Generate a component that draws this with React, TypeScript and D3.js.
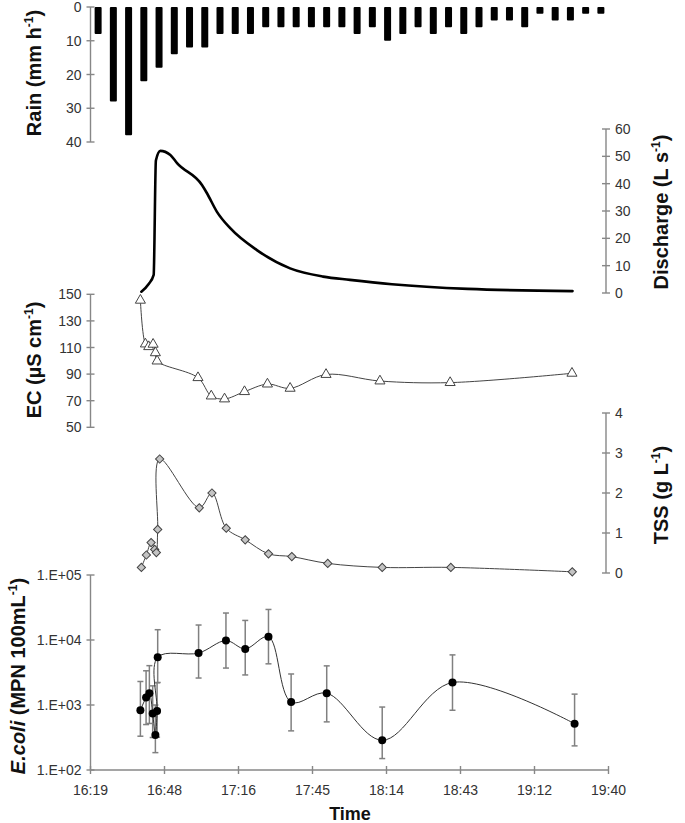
import React from 'react';
import * as d3 from 'd3';

const W = 685;
const H = 823;

// ---- Data ----
const rainValues = [8, 28, 38, 22, 18, 14, 12, 12, 8, 8, 8, 6, 6, 6, 6, 6, 6, 8, 6, 10, 8, 6, 8, 6, 8, 6, 4, 4, 6, 2, 4, 4, 2, 2];
const rainTicks = [0, 10, 20, 30, 40];

const dischargeTimes = ["16:39:00", "16:41:51", "16:43:47", "16:44:39", "16:46:23", "16:50:17", "16:52:53", "17:02:35", "17:04:32", "17:08:25", "17:13:35", "17:23:57", "17:36:53", "17:49:43", "18:00:11", "18:16:30", "18:46:00", "19:26:48"];
const dischargeValues = [0.5, 3.3, 6.6, 48.5, 52, 50.5, 47.5, 39.5, 36.5, 29.7, 23.7, 15.7, 9.0, 6.0, 4.8, 3.2, 1.5, 0.7];
const dischargeTicks = [0, 10, 20, 30, 40, 50, 60];

const ecTimes = ["16:38:37", "16:40:34", "16:41:51", "16:43:34", "16:44:27", "16:45:07", "17:01:02", "17:06:12", "17:11:22", "17:19:08", "17:28:04", "17:36:53", "17:50:52", "18:11:51", "18:39:10", "19:26:35"];
const ecValues = [145.5, 112.6, 110.6, 112.4, 106, 99.8, 87.3, 73.5, 71.3, 76.8, 82.5, 79.3, 89.7, 84.8, 83.6, 90.6];
const ecTicks = [50, 70, 90, 110, 130, 150];

const tssTimes = ["16:39:00", "16:40:57", "16:42:47", "16:44:11", "16:44:50", "16:45:21", "16:46:07", "17:01:32", "17:06:28", "17:12:02", "17:19:25", "17:28:28", "17:37:33", "17:51:32", "18:12:44", "18:39:26", "19:26:42"];
const tssValues = [0.14, 0.45, 0.76, 0.59, 0.51, 1.09, 2.85, 1.63, 2.0, 1.12, 0.83, 0.48, 0.41, 0.24, 0.14, 0.14, 0.03];
const tssTicks = [0, 1, 2, 3, 4];

const ecoliTimes = ["16:38:37", "16:40:50", "16:42:07", "16:43:24", "16:44:27", "16:45:07", "16:45:21", "17:01:16", "17:11:55", "17:19:25", "17:28:28", "17:37:17", "17:51:08", "18:12:44", "18:40:05", "19:27:36"];
const ecoliValues = [828, 1300, 1520, 740, 346, 810, 5430, 6300, 9800, 7300, 11200, 1110, 1520, 287, 2220, 515];
const ecoliLower = [331, 500, 520, 316, 185, 320, 2220, 2600, 3700, 2900, 4300, 400, 550, 150, 830, 235];
const ecoliUpper = [2300, 3360, 4030, 1970, 1000, 2200, 14400, 17000, 26000, 20000, 29500, 3000, 4000, 930, 5900, 1470];
const ecoliTicks = [100, 1000, 10000, 100000];
const ecoliTickLabels = ["1.E+02", "1.E+03", "1.E+04", "1.E+05"];

const xDomain = ["16:19:12", "19:40:48"];
const xTickTimes = ["16:19:12", "16:48:00", "17:16:48", "17:45:36", "18:14:24", "18:43:12", "19:12:00", "19:40:48"];
const xTickLabels = ["16:19", "16:48", "17:16", "17:45", "18:14", "18:43", "19:12", "19:40"];

// ---- helpers ----
const toMin = (t: string) => {
  const [h, m, s] = t.split(':').map(Number);
  return h * 60 + m + (s || 0) / 60;
};

const FONT = "'Liberation Sans', Arial, sans-serif";
const AXIS = '#878787';
const TICKTXT = '#333';

const LEFT_X = 90.5;
const RIGHT_X = 606;
const TITLE_SIZE = 20;

const x = d3.scaleLinear().domain(xDomain.map(toMin)).range([90.5, 608.5]);
const rainX = d3.scalePoint<number>().domain(rainValues.map((_, i) => i)).range([90.5, 608.5]).padding(0.5);
const rainY = d3.scaleLinear().domain([0, 40]).range([7, 142]);
const qY = d3.scaleLinear().domain([0, 60]).range([293, 129]);
const ecY = d3.scaleLinear().domain([50, 150]).range([427.3, 294.3]);
const tssY = d3.scaleLinear().domain([0, 4]).range([573, 413]);
const ecoliY = d3.scaleLog().domain([100, 100000]).range([770, 575]);

function VAxis({ scale, ticks, labels, xPos, side }: any) {
  const d = scale.domain();
  const y0 = scale(d[0]);
  const y1 = scale(d[d.length - 1]);
  return (
    <g>
      <line x1={xPos} x2={xPos} y1={y0} y2={y1} stroke={AXIS} strokeWidth={1.4} />
      {ticks.map((t: number, i: number) => (
        <g key={i}>
          <line x1={xPos - 4} x2={xPos + 4} y1={scale(t)} y2={scale(t)} stroke={AXIS} strokeWidth={1.4} />
          <text
            x={side === 'left' ? xPos - 9 : xPos + 9}
            y={scale(t)}
            dy="0.36em"
            textAnchor={side === 'left' ? 'end' : 'start'}
            fontSize={14}
            fill={TICKTXT}
            fontFamily={FONT}
          >
            {labels ? labels[i] : t}
          </text>
        </g>
      ))}
    </g>
  );
}

function VTitle({ xPos, yPos, children }: any) {
  return (
    <text
      transform={`translate(${xPos},${yPos}) rotate(-90)`}
      textAnchor="middle"
      fontSize={TITLE_SIZE}
      fontWeight="bold"
      fontFamily={FONT}
      fill="#111"
    >
      {children}
    </text>
  );
}

const sup = (s: string) => (
  <tspan fontSize={12} dy={-8}>{s}</tspan>
);
const unsup = (s: string) => (
  <tspan dy={8}>{s}</tspan>
);

export default function App() {
  const qLine = d3
    .line<number>()
    .x((_, i) => x(toMin(dischargeTimes[i])))
    .y((v) => qY(v))
    .curve(d3.curveMonotoneX)(dischargeValues) as string;

  const ecLine = d3
    .line<number>()
    .x((_, i) => x(toMin(ecTimes[i])))
    .y((v) => ecY(v))
    .curve(d3.curveCatmullRom.alpha(0.5))(ecValues) as string;

  const tssLine = d3
    .line<number>()
    .x((_, i) => x(toMin(tssTimes[i])))
    .y((v) => tssY(v))
    .curve(d3.curveCatmullRom.alpha(0.5))(tssValues) as string;

  const ecoliLine = d3
    .line<number>()
    .x((_, i) => x(toMin(ecoliTimes[i])))
    .y((v) => ecoliY(v))
    .curve(d3.curveCatmullRom.alpha(0.5))(ecoliValues) as string;

  const tri = d3.symbol().type(d3.symbolTriangle).size(44)() as string;
  const sq = d3.symbol().type(d3.symbolSquare).size(34)() as string;

  const barW = 7;

  return (
    <svg
      width={W}
      height={H}
      viewBox={`0 0 ${W} ${H}`}
      style={{ position: 'absolute', left: 0, top: 0, background: '#fff' }}
      fontFamily={FONT}
    >
      <rect x={0} y={0} width={W} height={H} fill="#fff" />

      {/* Rain bars */}
      {rainValues.map((v, i) => (
        <rect
          key={i}
          x={(rainX(i) as number) - barW / 2}
          y={rainY(0)}
          width={barW}
          height={rainY(v) - rainY(0)}
          fill="#000"
          rx={1}
        />
      ))}

      {/* Discharge */}
      <path d={qLine} fill="none" stroke="#000" strokeWidth={2.6} strokeLinecap="round" />

      {/* EC */}
      <path d={ecLine} fill="none" stroke="#444" strokeWidth={1} />
      {ecValues.map((v, i) => (
        <path
          key={i}
          d={tri}
          transform={`translate(${x(toMin(ecTimes[i]))},${ecY(v)})`}
          fill="#fff"
          stroke="#444"
          strokeWidth={1}
        />
      ))}

      {/* TSS */}
      <path d={tssLine} fill="none" stroke="#444" strokeWidth={1} />
      {tssValues.map((v, i) => (
        <path
          key={i}
          d={sq}
          transform={`translate(${x(toMin(tssTimes[i]))},${tssY(v)}) rotate(45)`}
          fill="#c4c4c4"
          stroke="#444"
          strokeWidth={1}
        />
      ))}

      {/* E. coli error bars */}
      {ecoliValues.map((_, i) => {
        const cx = x(toMin(ecoliTimes[i]));
        const yl = ecoliY(ecoliLower[i]);
        const yu = ecoliY(ecoliUpper[i]);
        return (
          <g key={i} stroke="#808080" strokeWidth={1.5}>
            <line x1={cx} x2={cx} y1={yl} y2={yu} />
            <line x1={cx - 3} x2={cx + 3} y1={yl} y2={yl} />
            <line x1={cx - 3} x2={cx + 3} y1={yu} y2={yu} />
          </g>
        );
      })}
      <path d={ecoliLine} fill="none" stroke="#333" strokeWidth={1} />
      {ecoliValues.map((v, i) => (
        <circle key={i} cx={x(toMin(ecoliTimes[i]))} cy={ecoliY(v)} r={4} fill="#000" />
      ))}

      {/* Axes */}
      <VAxis scale={rainY} ticks={rainTicks} xPos={LEFT_X} side="left" />
      <VAxis scale={qY} ticks={dischargeTicks} xPos={RIGHT_X} side="right" />
      <VAxis scale={ecY} ticks={ecTicks} xPos={LEFT_X} side="left" />
      <VAxis scale={tssY} ticks={tssTicks} xPos={RIGHT_X} side="right" />
      <VAxis scale={ecoliY} ticks={ecoliTicks} labels={ecoliTickLabels} xPos={LEFT_X} side="left" />

      {/* X axis */}
      <g>
        <line x1={x.range()[0]} x2={x.range()[1]} y1={770} y2={770} stroke={AXIS} strokeWidth={1.4} />
        {xTickTimes.map((t, i) => (
          <g key={i}>
            <line x1={x(toMin(t))} x2={x(toMin(t))} y1={766} y2={774} stroke={AXIS} strokeWidth={1.4} />
            <text x={x(toMin(t))} y={795} textAnchor="middle" fontSize={14} fill={TICKTXT}>
              {xTickLabels[i]}
            </text>
          </g>
        ))}
      </g>

      {/* Titles */}
      <VTitle xPos={41} yPos={73}>
        Rain (mm h{sup('-1')}{unsup(')')}
      </VTitle>
      <VTitle xPos={41} yPos={360}>
        EC (µS cm{sup('-1')}{unsup(')')}
      </VTitle>
      <VTitle xPos={25} yPos={676}>
        <tspan fontStyle="italic">E.coli</tspan> (MPN 100mL{sup('-1')}{unsup(')')}
      </VTitle>
      <VTitle xPos={668} yPos={212}>
        Discharge (L s{sup('-1')}{unsup(')')}
      </VTitle>
      <VTitle xPos={668} yPos={495}>
        TSS (g L{sup('-1')}{unsup(')')}
      </VTitle>
      <text x={350} y={820} textAnchor="middle" fontSize={18} fontWeight="bold" fill="#111">
        Time
      </text>
    </svg>
  );
}
